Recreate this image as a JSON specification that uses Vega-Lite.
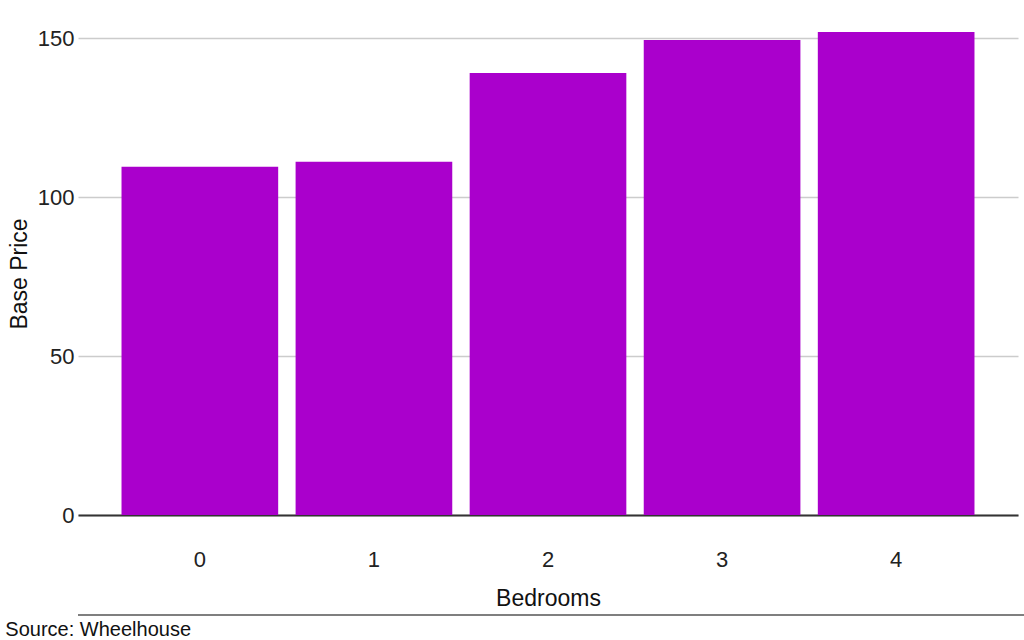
{
  "$schema": "https://vega.github.io/schema/vega-lite/v6.json",
  "padding": {"left": 5, "top": 27, "right": 0, "bottom": 0},
  "spacing": 4,
  "columns": 1,
  "align": "none",
  "config": {
    "font": "Liberation Sans",
    "view": {"stroke": null},
    "axis": {"labelFont": "Liberation Sans", "titleFont": "Liberation Sans", "labelColor": "#222", "titleColor": "#111", "titleFontWeight": "normal"}
  },
  "concat": [
    {
      "width": 940,
      "height": 483,
      "data": {
        "values": [
          {"Bedrooms": "0", "Base Price": 109.6},
          {"Bedrooms": "1", "Base Price": 111.2},
          {"Bedrooms": "2", "Base Price": 139.1},
          {"Bedrooms": "3", "Base Price": 149.5},
          {"Bedrooms": "4", "Base Price": 152.0}
        ]
      },
      "mark": {"type": "bar", "color": "#AA00CC"},
      "encoding": {
        "x": {
          "field": "Bedrooms",
          "type": "ordinal",
          "scale": {"paddingInner": 0.1, "paddingOuter": 0.25},
          "axis": {
            "labelAngle": 0,
            "ticks": false,
            "domain": true,
            "domainColor": "#333",
            "domainWidth": 2,
            "labelFontSize": 22,
            "labelPadding": 34,
            "titleFontSize": 23,
            "titlePadding": 17,
            "grid": false
          }
        },
        "y": {
          "field": "Base Price",
          "type": "quantitative",
          "scale": {"domain": [0, 152], "nice": false},
          "axis": {
            "values": [0, 50, 100, 150],
            "grid": true,
            "gridColor": "#cccccc",
            "gridWidth": 1.5,
            "domain": false,
            "ticks": false,
            "labelFontSize": 22,
            "labelPadding": 4,
            "titleFontSize": 23,
            "titlePadding": 6
          }
        }
      }
    },
    {
      "width": 947,
      "height": 1,
      "title": {"text": "Source: Wheelhouse", "orient": "bottom", "anchor": "start", "fontSize": 20, "fontWeight": "normal", "color": "#111", "offset": 4, "dx": -72},
      "data": {"values": [{"line": 1}]},
      "mark": {"type": "rule", "color": "#555", "strokeWidth": 1.3, "clip": false},
      "encoding": {
        "y": {"field": "line", "type": "quantitative", "scale": {"domain": [0, 1]}, "axis": null}
      }
    }
  ]
}
